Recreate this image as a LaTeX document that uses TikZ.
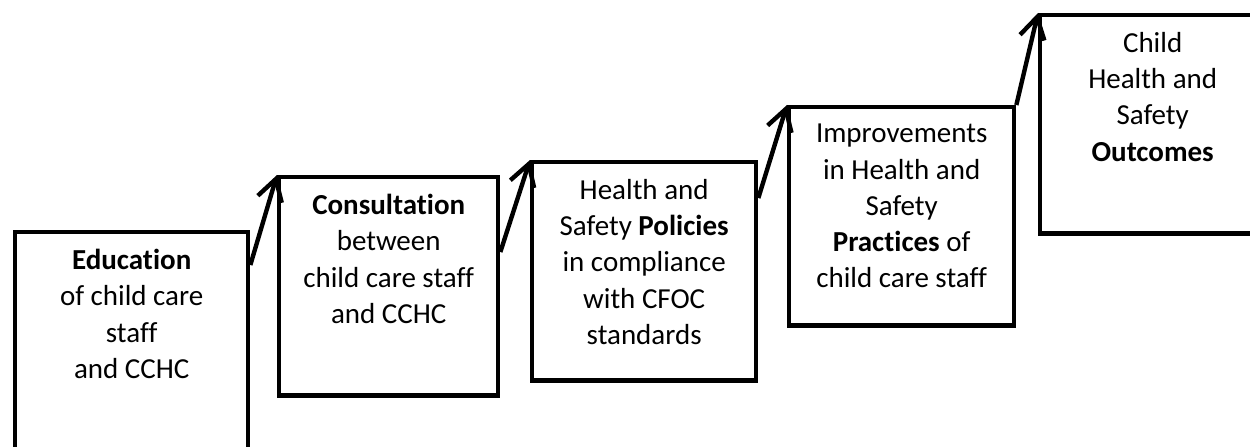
\documentclass[tikz,border=0pt]{standalone}
\usepackage{fontspec}
\setmainfont{Carlito}[Ligatures={NoCommon,NoContextual}]
\usetikzlibrary{positioning,calc,arrows.meta}

\begin{document}
\begin{tikzpicture}
[x=0.02cm, y=-0.02cm,
  stage/.style={draw, line width=2.5pt, inner sep=0pt, anchor=north west,
    minimum height=4.37cm},
  stagetext/.style={align=center, inner sep=0pt,
    font=\fontsize{16.5}{20.6}\selectfont},
  rise/.style={line width=2.5pt, -{Straight Barb[length=0.42cm,width=0.5cm]}}]
  \useasboundingbox (0,0) rectangle (1250,446);
  % boxes
  \node[stage, minimum width=4.66cm] (edu) at (13,230) {};
  \node[stage, minimum width=4.38cm] (consult) at (277,175) {};
  \node[stage, minimum width=4.48cm] (policy) at (530,160) {};
  \node[stage, minimum width=4.5cm] (practice) at (787,105) {};
  \node[stage, minimum width=4.5cm] (outcome) at (1038,13) {};
  % texts
  \node[stagetext, below=0.38cm of edu.north] (edutext)
    {\textbf{Education}\\of child care\\staff\\and CCHC};
  \node[stagetext, below=0.38cm of consult.north] (consulttext)
    {\textbf{Consultation}\\between\\child care staff\\and CCHC};
  \node[stagetext, below=0.38cm of policy.north] (policytext)
    {Health and\\Safety \textbf{Policies}\\in compliance\\with CFOC\\standards};
  \node[stagetext, below=0.38cm of practice.north] (practicetext)
    {Improvements\\in Health and\\Safety\\\textbf{Practices} of\\child care staff};
  \node[stagetext, below=0.38cm of outcome.north] (outcometext)
    {Child\\Health and\\Safety\\\textbf{Outcomes}};
  % arrows
  \draw[rise] ($(edu.north east)+(0,35)$) -- (consult.north west);
  \draw[rise] ($(consult.north east)+(0,77)$) -- (policy.north west);
  \draw[rise] ($(policy.north east)+(0,38)$) -- (practice.north west);
  \draw[rise] (practice.north east) -- (outcome.north west);
\end{tikzpicture}
\end{document}
